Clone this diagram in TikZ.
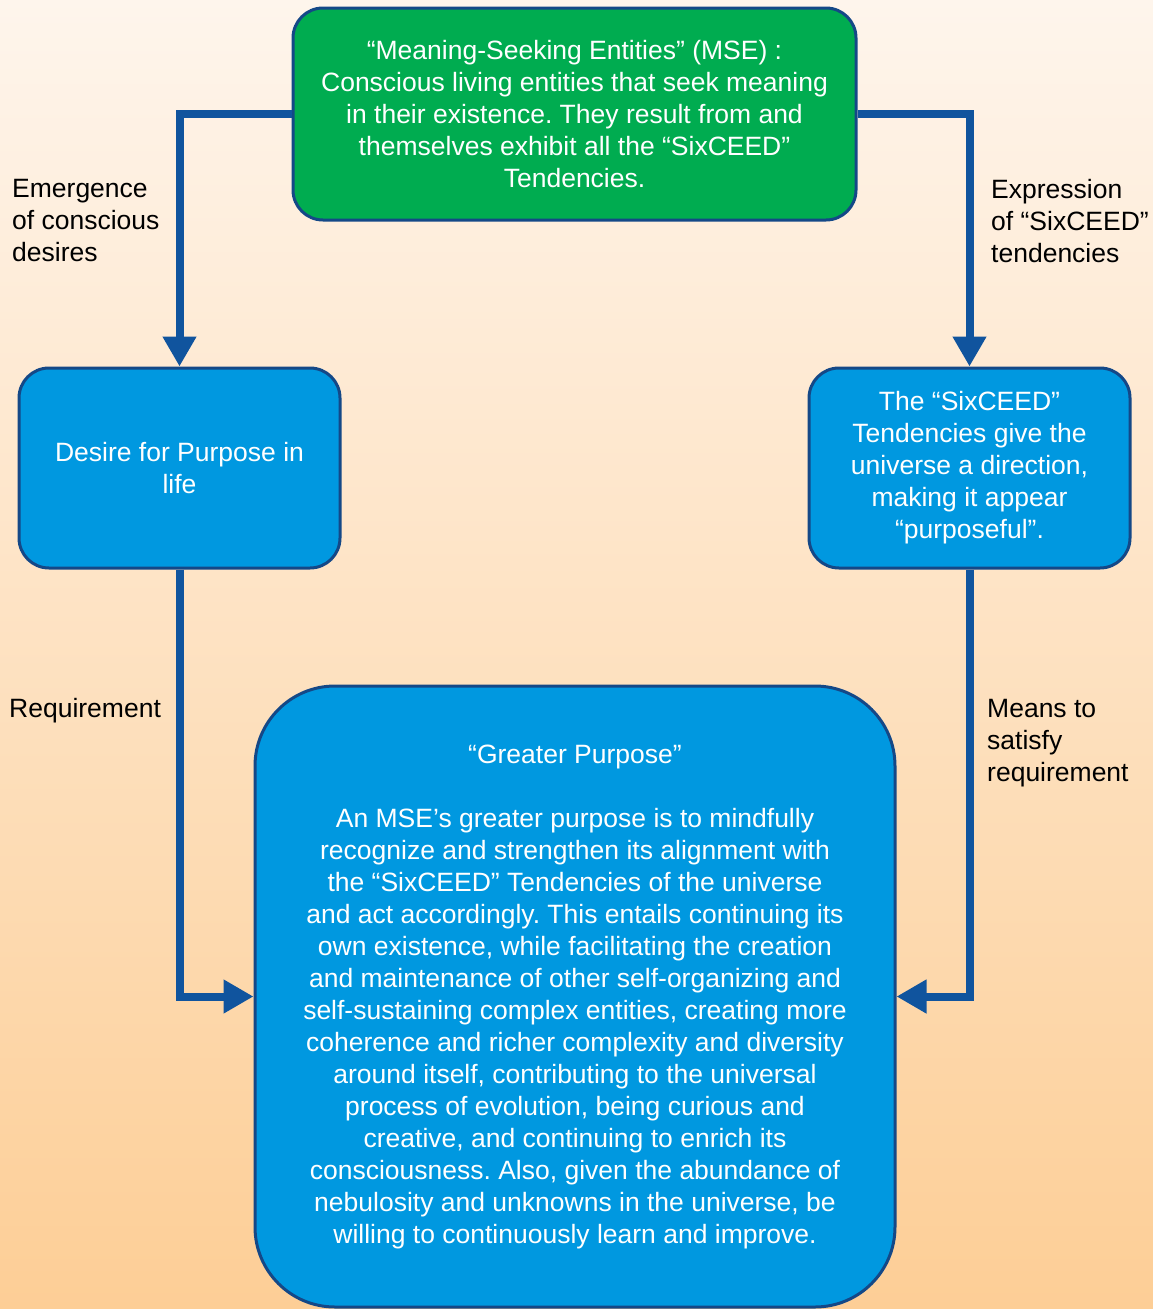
\documentclass[tikz,border=0pt]{standalone}
\usepackage{fontspec}
\setmainfont{Liberation Sans}
\usetikzlibrary{arrows.meta}
\frenchspacing
\definecolor{bgtop}{RGB}{254,245,236}
\definecolor{bgbot}{RGB}{253,206,150}
\definecolor{boxgreen}{RGB}{0,172,80}
\definecolor{boxblue}{RGB}{0,152,224}
\definecolor{edgeblue}{RGB}{20,72,135}
\definecolor{arrowblue}{RGB}{16,84,158}
\tikzset{
  txt/.style={font=\fontsize{26.5}{32}\selectfont},
  mybox/.style={txt, draw=edgeblue, line width=3pt, text=white, align=center, inner sep=0pt},
  conn/.style={draw=arrowblue, line width=8pt, line join=miter, -{Triangle[length=30pt,width=32pt]}},
  lbl/.style={txt, text=black, align=left, inner sep=0pt, anchor=west}
}
\begin{document}
\frenchspacing
\begin{tikzpicture}[x=1pt,y=-1pt]
\shade[top color=bgtop, bottom color=bgbot] (0,0) rectangle (1153,1309);
\useasboundingbox (0,0) rectangle (1153,1309);

\node[mybox, fill=boxgreen, rounded corners=30pt, minimum width=563pt, minimum height=212pt] (mse) at (574.5,114)
 {“Meaning-Seeking Entities” (MSE) :\\Conscious living entities that seek meaning\\in their existence. They result from and\\themselves exhibit all the “SixCEED”\\Tendencies.};

\node[mybox, fill=boxblue, rounded corners=30pt, minimum width=321pt, minimum height=200pt] (desire) at (179.5,468)
 {Desire for Purpose in\\life};

\node[mybox, fill=boxblue, rounded corners=30pt, minimum width=321pt, minimum height=200pt] (tend) at (969.5,468)
 {The “SixCEED”\\Tendencies give the\\universe a direction,\\making it appear\\“purposeful”.};

\node[mybox, fill=boxblue, rounded corners=80pt, minimum width=640pt, minimum height=621pt] (gp) at (575,996.5)
 {“Greater Purpose”\\[32pt]An MSE’s greater purpose is to mindfully\\recognize and strengthen its alignment with\\the “SixCEED” Tendencies of the universe\\and act accordingly. This entails continuing its\\own existence, while facilitating the creation\\and maintenance of other self-organizing and\\self-sustaining complex entities, creating more\\coherence and richer complexity and diversity\\around itself, contributing to the universal\\process of evolution, being curious and\\creative, and continuing to enrich its\\consciousness. Also, given the abundance of\\nebulosity and unknowns in the universe, be\\willing to continuously learn and improve.};

\draw[conn] (mse.west) -| (desire.north);
\draw[conn] (mse.east) -| (tend.north);
\draw[conn] (desire.south) |- (gp.west);
\draw[conn] (tend.south) |- (gp.east);

\node[lbl] (l1) at (12,221) {Emergence\\of conscious\\desires};
\node[lbl] (l2) at (991,221) {Expression\\of “SixCEED”\\tendencies};
\node[lbl] (l3) at (9,711) {Requirement};
\node[lbl] (l4) at (987,743) {Means to\\satisfy\\requirement};
\end{tikzpicture}
\end{document}
